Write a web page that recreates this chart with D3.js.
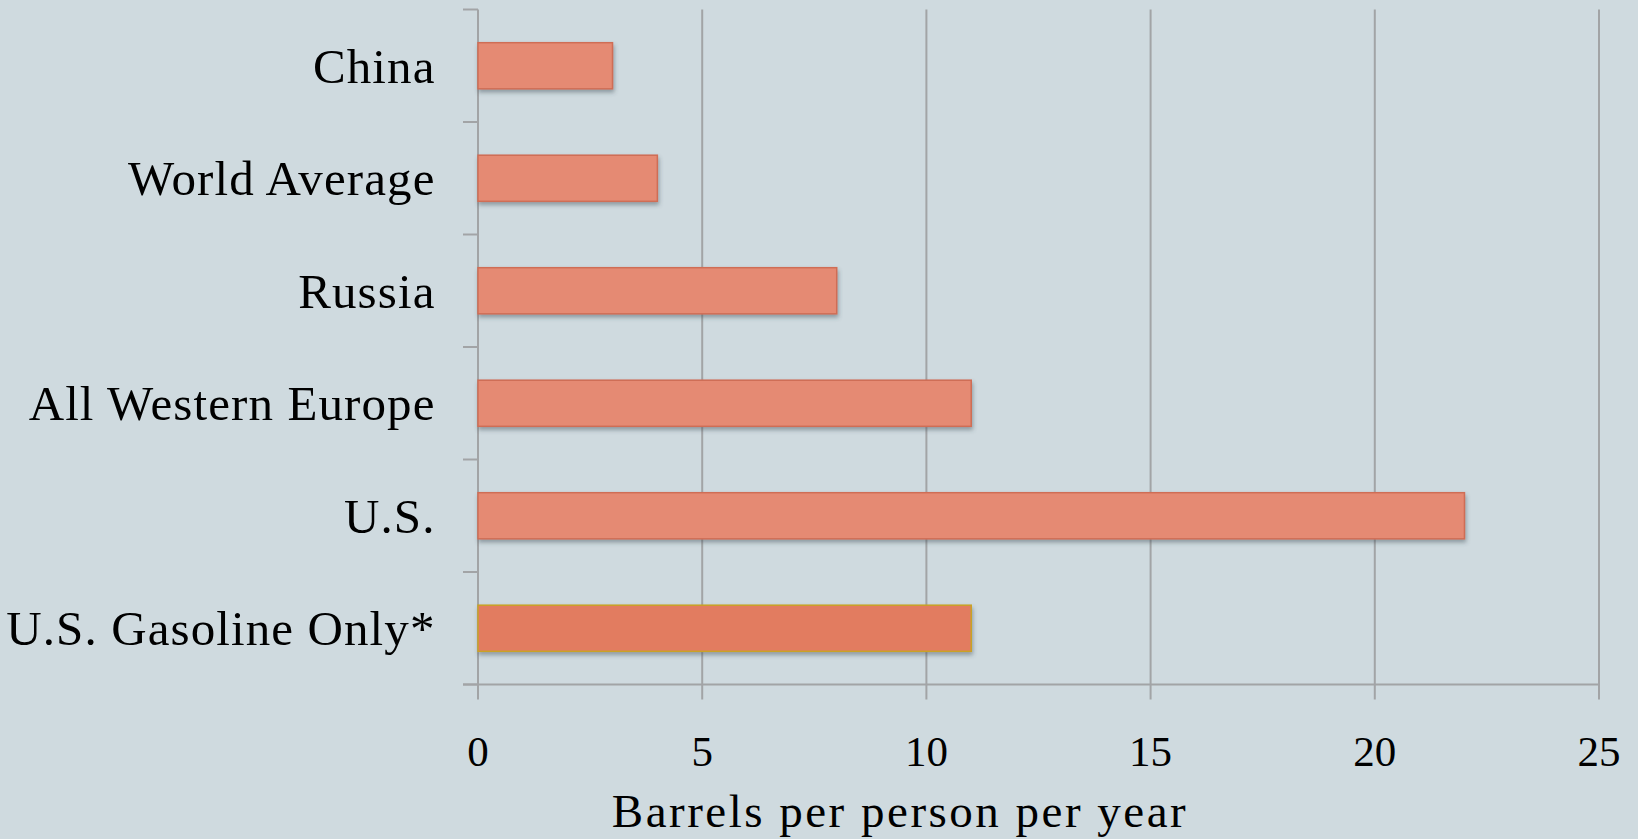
<!DOCTYPE html>
<html>
<head>
<meta charset="utf-8">
<script src="https://cdn.jsdelivr.net/npm/d3@7"></script>
<style>
  html, body { margin: 0; padding: 0; background: #CFDADF; }
  svg { display: block; }
  text { font-family: "Liberation Serif", "DejaVu Serif", serif; fill: #000; }
</style>
</head>
<body>
<svg id="chart" width="1638" height="839"></svg>
<script>
// Oil consumption per person
const categories = ["China", "World Average", "Russia", "All Western Europe", "U.S.", "U.S. Gasoline Only*"];
const barrels = [3, 4, 8, 11, 22, 11];
const tickValues = [0, 5, 10, 15, 20, 25];
const axisTitle = "Barrels per person per year";

const svg = d3.select("#chart");
const W = 1638, H = 839;
const plot = { left: 478, right: 1599, top: 9.5, bottom: 684.5 };

svg.append("rect").attr("width", W).attr("height", H).attr("fill", "#CFDADF");

const defs = svg.append("defs");
const shadow = defs.append("filter").attr("id", "barShadow")
  .attr("x", "-5%").attr("y", "-20%").attr("width", "110%").attr("height", "160%");
shadow.append("feDropShadow")
  .attr("dx", 1).attr("dy", 3).attr("stdDeviation", 2)
  .attr("flood-color", "#3d4a55").attr("flood-opacity", 0.45);

const x = d3.scaleLinear().domain([0, 25]).range([plot.left, plot.right]);
const y = d3.scaleBand().domain(categories).range([plot.top, plot.bottom]);

const gridColor = "#A2A4A6";

// vertical gridlines (run a little past the baseline as tick marks)
svg.append("g").selectAll("line").data(tickValues).join("line")
  .attr("x1", d => x(d)).attr("x2", d => x(d))
  .attr("y1", plot.top).attr("y2", plot.bottom + 15)
  .attr("stroke", gridColor).attr("stroke-width", 2);

// category boundary ticks on the left axis
const bounds = categories.map(c => y(c)).concat([plot.bottom]);
svg.append("g").selectAll("line").data(bounds).join("line")
  .attr("x1", plot.left - 15).attr("x2", plot.left)
  .attr("y1", d => d).attr("y2", d => d)
  .attr("stroke", gridColor).attr("stroke-width", 2);

// horizontal baseline
svg.append("line")
  .attr("x1", plot.left - 15).attr("x2", plot.right)
  .attr("y1", plot.bottom).attr("y2", plot.bottom)
  .attr("stroke", gridColor).attr("stroke-width", 2);

// bars
const barH = y.bandwidth() * 0.41;
svg.append("g").selectAll("rect").data(categories).join("rect")
  .attr("x", x(0))
  .attr("y", d => y(d) + y.bandwidth() / 2 - barH / 2)
  .attr("width", (d, i) => x(barrels[i]) - x(0))
  .attr("height", barH)
  .attr("fill", (d, i) => i === categories.length - 1 ? "#E27C60" : "#E58A73")
  .attr("stroke", (d, i) => i === categories.length - 1 ? "#C9A227" : "#CF6D55")
  .attr("stroke-width", 1.5)
  .attr("filter", "url(#barShadow)");

// category labels
svg.append("g").selectAll("text").data(categories).join("text")
  .attr("x", 435.5)
  .attr("y", d => y(d) + y.bandwidth() / 2 + 17)
  .attr("text-anchor", "end")
  .attr("font-size", 49)
  .attr("letter-spacing", 1.1)
  .text(d => d);

// x tick labels
svg.append("g").selectAll("text").data(tickValues).join("text")
  .attr("x", d => x(d))
  .attr("y", 766)
  .attr("text-anchor", "middle")
  .attr("font-size", 43)
  .text(d => d);

// axis title
svg.append("text")
  .attr("x", 900).attr("y", 827)
  .attr("text-anchor", "middle")
  .attr("font-size", 47)
  .attr("letter-spacing", 2.5)
  .text(axisTitle);
</script>
</body>
</html>
